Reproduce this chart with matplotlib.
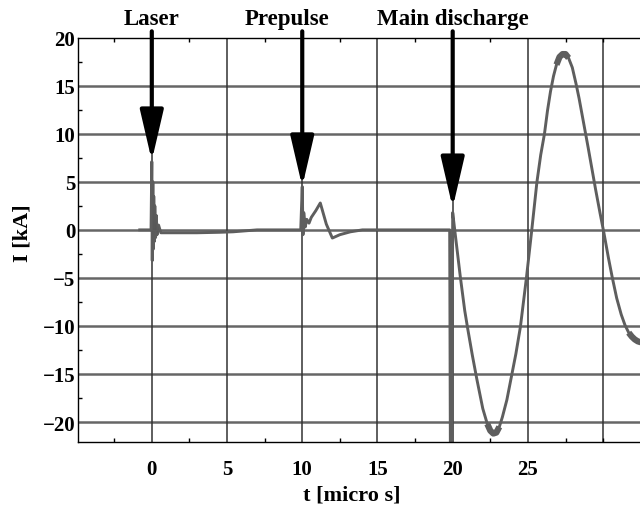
import numpy as np
import matplotlib.pyplot as plt
from matplotlib.ticker import MultipleLocator, FixedLocator

# current trace, time in micro s, current in kA
t_us = [
    -0.8, -0.3, -0.05, 0.0, 0.03, 0.07, 0.10, 0.13, 0.17, 0.20, 0.25,
    0.30, 0.35, 0.45, 0.6, 1.5, 3.0, 4.5, 5.4, 7.0, 9.9,
    10.0, 10.05, 10.1, 10.2, 10.3, 10.45, 10.6, 10.9, 11.2, 11.6,
    12.0, 12.5, 13.2, 14.0, 17.0, 19.8,
    19.85, 19.95, 20.0, 20.15, 20.5, 20.8, 21.0, 21.3, 21.6, 22.0,
    22.3, 22.5, 22.7, 22.9, 23.1, 23.3, 23.6, 23.9, 24.2, 24.5,
    24.9, 25.25, 25.6, 25.85, 26.1, 26.3, 26.5, 26.7, 26.9, 27.1,
    27.3, 27.5, 27.7, 27.95, 28.2, 28.4, 28.6, 28.8, 29.0, 29.25,
    29.5, 29.8, 30.05, 30.35, 30.6, 30.9, 31.2, 31.45, 31.7, 31.9,
    32.1, 32.3, 32.5,
]
i_ka = [
    0.0, 0.0, 0.0, 7.1, -3.2, 5.0, -2.0, 3.5, -1.2, 2.5, -0.8,
    1.5, -0.5, 0.5, -0.3, -0.3, -0.3, -0.25, -0.2, 0.0, 0.0,
    4.5, -0.5, 1.8, 0.3, 1.1, 0.7, 1.3, 2.0, 2.8, 0.6,
    -0.85, -0.5, -0.2, 0.0, 0.0, 0.0,
    -25.0, -25.0, 1.8, -0.2, -4.8, -8.4, -10.3, -13.0, -15.5, -18.6,
    -20.2, -20.9, -21.2, -21.1, -20.5, -19.5, -17.7, -15.3, -12.9, -10.1,
    -5.0, -0.1, 5.0, 7.8, 10.0, 12.4, 14.4, 16.0, 17.2, 18.0,
    18.3, 18.3, 17.9, 16.9, 15.2, 13.7, 12.0, 10.3, 8.6, 6.4,
    4.2, 1.7, -0.3, -2.9, -4.9, -7.1, -8.8, -9.9, -10.7, -11.1,
    -11.4, -11.6, -11.7,
]

event_names = ["Laser", "Prepulse", "Main discharge"]
event_times = [0, 10, 20]
event_tips = [7.2, 4.5, 2.3]
label_x = [0, 9.0, 20]

# stretches where the scope noise widens the trace
noisy_spans = [(22.3, 23.1), (26.9, 27.8), (31.7, 32.5)]

plt.rcParams["font.family"] = ["Liberation Serif", "DejaVu Serif"]
plt.rcParams["font.weight"] = "bold"

fig = plt.figure(figsize=(6.4, 5.1), dpi=100)
ax = fig.add_axes([0.122, 0.131, 0.878, 0.793])

ax.set_xlim(-4.9, 32.45)
ax.set_ylim(-22.1, 20.0)

# grid: horizontal lines heavier than vertical ones
for y in range(-20, 20, 5):
    ax.axhline(y, color="#666666", lw=1.8, zorder=1)
for x in range(0, 35, 5):
    ax.axvline(x, color="#333333", lw=1.1, zorder=1)

t_arr = np.array(t_us)
i_arr = np.array(i_ka)
ax.plot(t_arr, i_arr, color="#5e5e5e", lw=2.1, zorder=2)
for a, b in noisy_spans:
    m = (t_arr >= a) & (t_arr <= b)
    ax.plot(t_arr[m], i_arr[m], color="#5e5e5e", lw=4.5, zorder=2,
            solid_capstyle="butt")
# dense ringing right after the laser shot
m = (t_arr >= 0.0) & (t_arr <= 0.45)
ax.fill_between(t_arr[m], i_arr[m], 0, color="#555555", lw=0, zorder=2)

for name, t0, tip, lx in zip(event_names, event_times, event_tips, label_x):
    ax.annotate(
        "",
        xy=(t0, tip),
        xycoords="data",
        xytext=(t0, 1.016),
        textcoords=("data", "axes fraction"),
        arrowprops=dict(
            arrowstyle="-|>,head_length=3.1,head_width=0.72",
            mutation_scale=10,
            color="black",
            lw=3,
            shrinkA=0,
            shrinkB=0,
        ),
        annotation_clip=False,
        zorder=5,
    )
    ax.text(lx, 1.048, name, transform=ax.get_xaxis_transform(),
            ha="center", va="center", fontsize=16.5, fontweight="bold")

ax.xaxis.set_major_locator(FixedLocator([0, 5, 10, 15, 20, 25]))
ax.xaxis.set_minor_locator(MultipleLocator(2.5))
ax.yaxis.set_major_locator(MultipleLocator(5))
ax.yaxis.set_minor_locator(MultipleLocator(2.5))
ax.tick_params(which="both", direction="in", top=True, right=False,
               labelsize=15, width=1)
ax.tick_params(which="major", length=0)
ax.tick_params(axis="x", which="major", pad=12)
ax.tick_params(axis="y", which="major", pad=2)
ax.tick_params(which="minor", length=3)
ax.set_yticks([-20, -15, -10, -5, 0, 5, 10, 15, 20])
ax.set_yticklabels(["\u221220", "\u221215", "\u221210", "\u22125",
                    "0", "5", "10", "15", "20"])

ax.spines["right"].set_visible(False)
for s in ["left", "bottom", "top"]:
    ax.spines[s].set_linewidth(1.0)

ax.set_xlabel("t [micro s]", fontsize=16, fontweight="bold")
ax.set_ylabel("I [kA]", fontsize=16, fontweight="bold")
ax.xaxis.set_label_coords(0.487, -0.105)
ax.yaxis.set_label_coords(-0.082, 0.52)

fig.savefig("out.png", dpi=100)
